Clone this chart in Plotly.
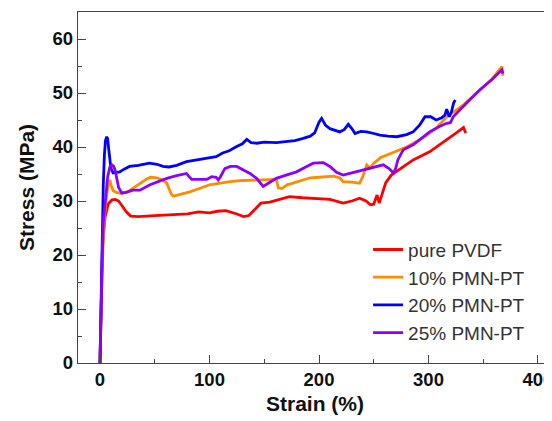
import plotly.graph_objects as go

# ---- data ----
pvdf_x = [0, 1, 2.4, 4.6, 7.6, 11, 14, 17, 20, 24, 28, 35, 50, 65, 80, 90, 100, 107, 115, 125, 131, 136, 142, 147, 155, 165, 173, 185, 200, 210, 222, 230, 237, 243, 247, 250, 253, 255, 258, 261, 266, 275, 286, 301, 317, 326, 332, 334]
pvdf_y = [0, 12, 22, 27, 29.5, 30.2, 30.3, 30, 29.2, 28, 27.2, 27.1, 27.3, 27.5, 27.6, 28, 27.8, 28.1, 28.2, 27.6, 27.1, 27.3, 28.5, 29.6, 29.8, 30.3, 30.8, 30.6, 30.5, 30.3, 29.6, 30, 30.5, 30, 29.3, 29.4, 31.1, 29.6, 31.5, 33.4, 34.8, 36, 37.6, 39.1, 41.3, 42.7, 43.6, 42.6]

p10_x = [0, 2, 4, 6, 8, 9, 10, 12, 15, 20, 26, 32, 37, 42, 46, 52, 57, 61, 63, 65, 67, 75, 82, 92, 100, 110, 119, 130, 140, 150, 161, 163, 166, 171, 180, 192, 200, 213, 219, 222, 230, 237, 240, 243.6, 246.6, 250, 256, 268, 280, 289, 298, 307, 316.6, 332, 347, 358, 367, 368]
p10_y = [1, 18, 27, 31, 33.5, 33.9, 33, 31.9, 31.6, 31.4, 31.8, 32.7, 33.3, 34, 34.4, 34.3, 33.9, 33.3, 32.4, 31.3, 30.9, 31.3, 31.7, 32.4, 33, 33.3, 33.6, 33.8, 33.9, 33.9, 34, 32.4, 32.3, 33, 33.5, 34.3, 34.4, 34.6, 34.3, 33.6, 33.5, 33.3, 34.5, 36.7, 36.1, 37, 38, 39, 40, 41, 42.1, 43.5, 45.6, 47.8, 50.5, 52.6, 54.9, 53.2]

p20_x = [0, 1, 2, 3, 4, 5, 6.1, 7, 8, 10, 12, 15, 18, 22, 27, 35, 45, 52, 57.5, 63, 70, 79, 88, 100, 106, 112, 118, 124.8, 130, 134, 138, 143, 150, 161, 170, 178, 185.6, 192, 196, 198, 200, 202.4, 206, 210, 219, 223, 226.8, 230, 233, 238, 243.6, 250, 255.7, 263, 271, 280, 286, 292, 296.8, 302, 307, 312, 315, 316.6, 319, 321, 323, 324.5]
p20_y = [0, 14, 25, 33, 38.5, 41.2, 41.9, 41.5, 39.5, 36, 35.2, 35.3, 35.4, 35.9, 36.4, 36.6, 37, 36.8, 36.4, 36.3, 36.6, 37.3, 37.6, 37.9, 38.2, 38.9, 39.3, 40.1, 40.6, 41.4, 40.8, 40.7, 40.9, 40.8, 41, 41.2, 41.6, 42, 42.6, 43.8, 44.6, 45.3, 44, 43.4, 42.8, 43.2, 44.2, 43.4, 42.5, 42.9, 42.8, 42.5, 42.2, 42, 41.9, 42.3, 42.8, 44.1, 45.6, 45.6, 45, 45.4, 45.9, 47, 45.6, 46.5, 48.2, 48.7]

p25_x = [0, 1, 2, 3, 5, 7, 9, 10.7, 12.5, 14, 15.5, 17, 19.8, 24, 30, 36.5, 45.7, 53, 61, 70, 79, 81, 83.7, 90, 97.4, 102, 106, 108, 110, 114, 119, 124.8, 131, 137, 143, 149, 153, 161, 170, 179.5, 187, 194.8, 204, 210, 216, 222, 230, 240, 250, 258.7, 264, 268, 270, 272, 277, 286, 293, 301, 310, 316.6, 320, 322.6, 335, 347, 358, 367, 368]
p25_y = [0, 12, 20, 26, 31, 34.5, 36.3, 36.7, 36.4, 35.6, 34, 32.5, 31.5, 31.6, 32, 32, 33, 33.6, 34.2, 34.7, 35.1, 34.6, 34, 34, 34, 34.5, 34.4, 33.9, 34.5, 36, 36.4, 36.4, 35.8, 35.1, 34.2, 32.7, 33.2, 34.2, 34.8, 35.4, 36.2, 37, 37.1, 36.4, 35.3, 34.8, 35.2, 35.7, 36.2, 36.7, 36, 35.2, 36, 37.6, 39.5, 40.4, 41.5, 42.8, 43.8, 44.4, 44.5, 45.6, 48.2, 50.6, 52.5, 54.3, 53.6]

series_names = ["pure PVDF", "10% PMN-PT", "20% PMN-PT", "25% PMN-PT"]
series_colors = ["#FF0000", "#FF8C00", "#0000FF", "#8B00FF"]
series_x = [pvdf_x, p10_x, p20_x, p25_x]
series_y = [pvdf_y, p10_y, p20_y, p25_y]

x_ticks = [0, 100, 200, 300, 400]
y_ticks = [0, 10, 20, 30, 40, 50, 60]

fig = go.Figure()
for name, col, xs, ys in zip(series_names, series_colors, series_x, series_y):
    fig.add_trace(go.Scatter(x=xs, y=ys, mode="lines", name=name,
                             line=dict(color=col, width=2.8)))

FAM = "Liberation Sans, Arial"
title_font = dict(family=FAM, size=21, color="#111111")
tick_font = dict(family=FAM, size=18.5, color="#111111", weight="bold")
fig.update_layout(
    width=544, height=413,
    margin=dict(l=70, r=0, t=4, b=58),
    paper_bgcolor="white", plot_bgcolor="white",
    font=dict(family=FAM, size=17, color="#111111"),
    showlegend=True,
    legend=dict(x=0.612, y=0.377, xanchor="left", yanchor="top",
                bgcolor="rgba(0,0,0,0)", font=dict(family=FAM, size=19, color="#333333"),
                tracegroupgap=0),
)
fig.update_xaxes(
    range=[-20.1, 412.8], tickmode="array", tickvals=x_ticks, automargin=False,
    ticklabeloverflow="allow",
    ticks="inside", ticklen=8, tickwidth=1.3, tickcolor="#444",
    minor=dict(ticks="inside", ticklen=4, tickwidth=1.3, tickcolor="#444", dtick=50, tick0=0),
    showline=True, linecolor="#444", linewidth=1.3, mirror=True,
    showgrid=False, zeroline=False,
    tickfont=tick_font,
    title=dict(text="<b>Strain (%)</b>", font=title_font, standoff=6),
)
fig.update_yaxes(
    range=[0, 65], tickmode="array", tickvals=y_ticks, automargin=False,
    ticks="inside", ticklen=8, tickwidth=1.3, tickcolor="#444",
    minor=dict(ticks="inside", ticklen=4, tickwidth=1.3, tickcolor="#444", dtick=5, tick0=0),
    showline=True, linecolor="#444", linewidth=1.3, mirror=False,
    showgrid=False, zeroline=False,
    tickfont=tick_font,
    title=dict(text="<b>Stress (MPa)</b>", font=title_font, standoff=12),
)

fig.write_html("out.html")
